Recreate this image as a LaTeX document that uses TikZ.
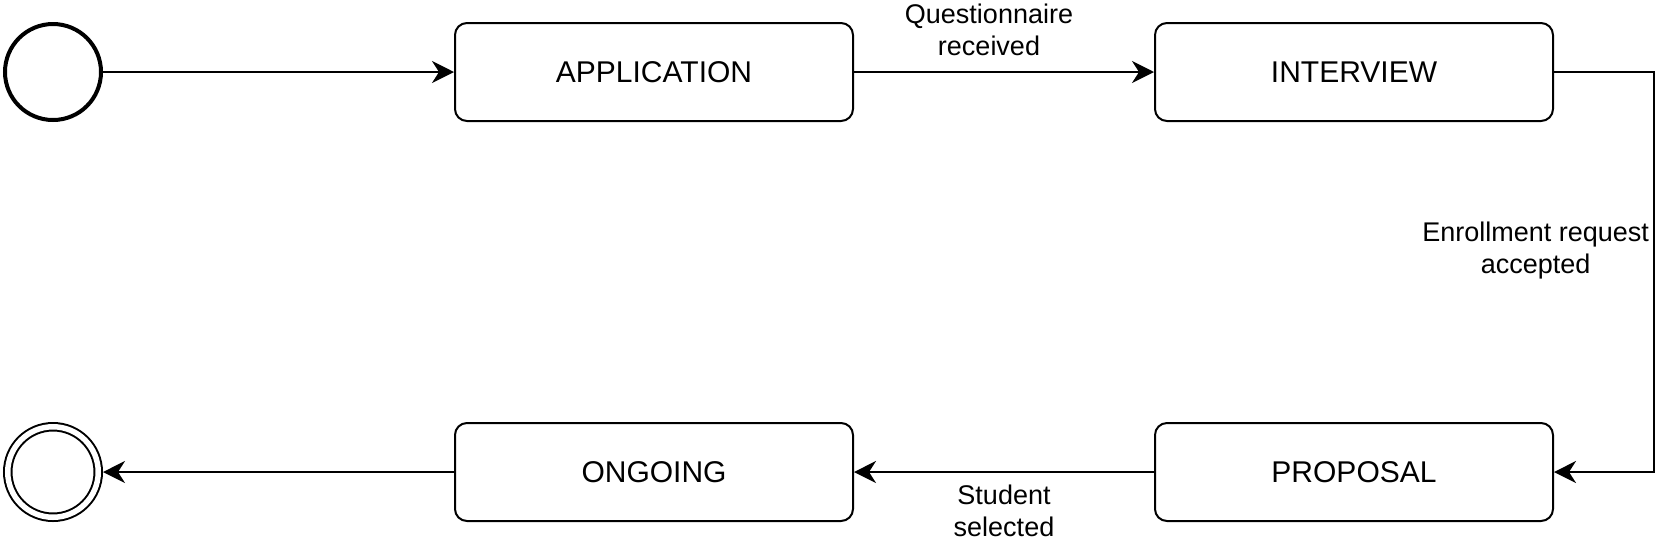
\documentclass[tikz,border=0pt]{standalone}
\usepackage{fontspec}
\setmainfont{Liberation Sans}
\usetikzlibrary{positioning}
\usetikzlibrary{arrows.meta}

\begin{document}
\begin{tikzpicture}[
	statebox/.style={rectangle, rounded corners=6pt, draw, line width=1pt, minimum width=199pt, minimum height=49pt, font=\fontsize{15pt}{18pt}\selectfont},
	startstate/.style={circle, draw, line width=2pt, minimum size=48pt},
	endstate/.style={circle, draw, double, line width=1pt, double distance=2.75pt, minimum size=45.25pt, outer sep=2.375pt},
	trans/.style={-{Stealth[length=11pt,width=11pt,inset=3.5pt]}, line width=1pt},
	lbl/.style={align=center, inner sep=6pt, font=\fontsize{13.5pt}{16pt}\selectfont}
]
	\useasboundingbox (0,0) rectangle (837.5pt,-271.5pt);
	\node [startstate] (start) at (26.5pt,-36pt) {};
	\node [statebox, right=175.5pt of start] (application) {APPLICATION};
	\node [statebox, right=150pt of application] (interview) {INTERVIEW};
	\node [statebox, below=150pt of interview] (proposal) {PROPOSAL};
	\node [statebox, below=150pt of application] (ongoing) {ONGOING};
	\node [endstate, below=150pt of start] (end) {};

	\draw [trans] (start) -- (application);
	\draw [trans] (application) -- node [lbl, above=1.5pt, xshift=-7.5pt] {Questionnaire\\received} (interview);
	\draw [trans] (interview.east) -- ++(50pt,0) |- node [lbl, pos=0.223, left, inner sep=2pt] {Enrollment request\\accepted} (proposal.east);
	\draw [trans] (proposal) -- node [lbl, below] {Student\\selected} (ongoing);
	\draw [trans] (ongoing) -- (end);
\end{tikzpicture}
\end{document}
